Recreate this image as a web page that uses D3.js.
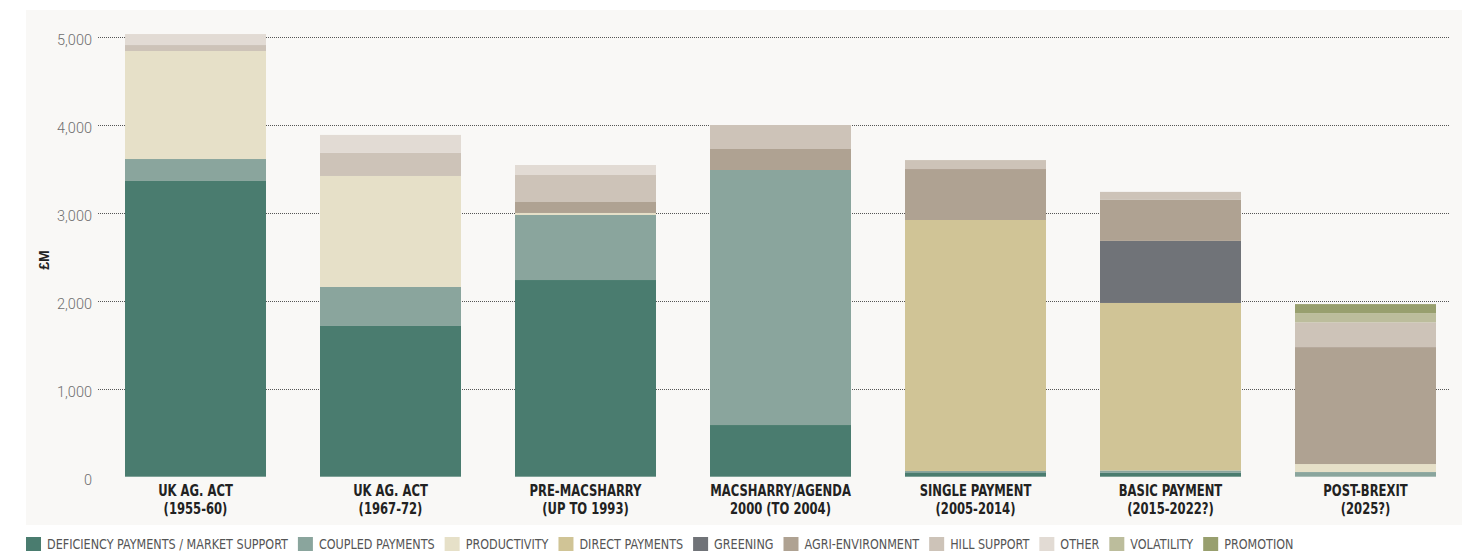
<!DOCTYPE html>
<html>
<head>
<meta charset="utf-8">
<script src="https://cdn.jsdelivr.net/npm/d3@7"></script>
<style>
  html, body { margin: 0; padding: 0; background: #ffffff; }
  svg { display: block; }
</style>
</head>
<body>
<svg id="chart" width="1475" height="551"></svg>
<script>
// Farm support spending by policy era, £M
const categories = [
  ["UK AG. ACT", "(1955-60)"],
  ["UK AG. ACT", "(1967-72)"],
  ["PRE-MACSHARRY", "(UP TO 1993)"],
  ["MACSHARRY/AGENDA", "2000 (TO 2004)"],
  ["SINGLE PAYMENT", "(2005-2014)"],
  ["BASIC PAYMENT", "(2015-2022?)"],
  ["POST-BREXIT", "(2025?)"]
];

const seriesNames = [
  "DEFICIENCY PAYMENTS / MARKET SUPPORT",
  "COUPLED PAYMENTS",
  "PRODUCTIVITY",
  "DIRECT PAYMENTS",
  "GREENING",
  "AGRI-ENVIRONMENT",
  "HILL SUPPORT",
  "OTHER",
  "VOLATILITY",
  "PROMOTION"
];

const seriesColors = [
  "#4a7c6f", "#8aa59d", "#e6e0c8", "#d0c496", "#707378",
  "#afa292", "#cdc3b8", "#e2dbd4", "#bcbd9c", "#989f6e"
];

// one array per series, one value per era
const deficiency    = [3365, 1715, 2238, 588, 50, 48, 0];
const coupled       = [250, 444, 740, 2902, 15, 23, 53];
const productivity  = [1229, 1263, 23, 0, 0, 0, 91];
const directPay     = [0, 0, 0, 0, 2856, 1906, 0];
const greening      = [0, 0, 0, 0, 0, 706, 0];
const agriEnv       = [0, 0, 125, 239, 580, 467, 1331];
const hillSupport   = [68, 262, 307, 273, 102, 91, 281];
const other         = [125, 205, 114, 0, 0, 0, 0];
const volatility    = [0, 0, 0, 0, 0, 0, 106];
const promotion     = [0, 0, 0, 0, 0, 0, 102];

const yTicks = [0, 1000, 2000, 3000, 4000, 5000];

const seriesValues = [deficiency, coupled, productivity, directPay, greening,
                      agriEnv, hillSupport, other, volatility, promotion];

const table = categories.map((c, i) => {
  const row = { key: i };
  seriesNames.forEach((s, j) => { row[s] = seriesValues[j][i]; });
  return row;
});

const svg = d3.select("#chart");

// panel background
svg.append("rect")
  .attr("x", 26).attr("y", 10)
  .attr("width", 1436).attr("height", 515)
  .attr("fill", "#f9f8f6");

const x = d3.scaleBand()
  .domain(d3.range(categories.length))
  .range([125, 1436])
  .paddingInner(54 / 195)
  .paddingOuter(0);

const y = d3.scaleLinear()
  .domain([0, 5000])
  .range([476.7, 37.3]);

// dotted gridlines
svg.append("g")
  .selectAll("line")
  .data(yTicks.filter(d => d > 0))
  .join("line")
  .attr("x1", 98).attr("x2", 1450)
  .attr("y1", d => Math.round(y(d)) + 0.5)
  .attr("y2", d => Math.round(y(d)) + 0.5)
  .attr("stroke", "#555")
  .attr("stroke-width", 1)
  .attr("stroke-dasharray", "1,1");

// y axis labels
const yAxis = d3.axisLeft(y)
  .tickValues(yTicks)
  .tickSize(0)
  .tickPadding(0)
  .tickFormat(d3.format(","));

const yg = svg.append("g")
  .attr("transform", "translate(92,3)")
  .call(yAxis);
yg.select(".domain").remove();
yg.selectAll("text")
  .attr("fill", "#6e6e6e")
  .style("font-family", "Roboto, 'Liberation Sans', sans-serif")
  .style("font-weight", 300)
  .style("font-size", "14.5px");

svg.append("text")
  .attr("transform", "translate(49,260) rotate(-90)")
  .attr("text-anchor", "middle")
  .attr("fill", "#222")
  .style("font-family", "'Liberation Sans', Arial, sans-serif")
  .style("font-weight", 700)
  .style("font-size", "14px")
  .text("£M");

// stacked bars
const stack = d3.stack().keys(seriesNames);
const layers = stack(table);

svg.append("g")
  .selectAll("g")
  .data(layers)
  .join("g")
  .attr("fill", (d, i) => seriesColors[i])
  .selectAll("rect")
  .data(d => d.filter(p => p[1] - p[0] > 0))
  .join("rect")
  .attr("x", d => x(d.data.key))
  .attr("width", x.bandwidth())
  .attr("y", d => y(d[1]))
  .attr("height", d => y(d[0]) - y(d[1]));

// category labels, horizontally squeezed condensed type
const catFont = "'DejaVu Sans Condensed', 'Liberation Sans', sans-serif";
const cats = svg.append("g")
  .selectAll("text")
  .data(categories)
  .join("text")
  .attr("transform", (d, i) => `translate(${x(i) + x.bandwidth() / 2},496) scale(0.86,1)`)
  .attr("text-anchor", "middle")
  .attr("fill", "#222")
  .style("font-family", catFont)
  .style("font-stretch", "condensed")
  .style("font-weight", 700)
  .style("font-size", "15px");
cats.append("tspan").attr("x", 0).text(d => d[0]);
cats.append("tspan").attr("x", 0).attr("dy", 18).text(d => d[1]);

// legend, laid out left to right
const legend = svg.append("g");
const squeeze = 0.89;
let lx = 26;
seriesNames.forEach((name, i) => {
  legend.append("rect")
    .attr("x", lx).attr("y", 537)
    .attr("width", 15).attr("height", 15)
    .attr("fill", seriesColors[i]);
  const t = legend.append("text")
    .attr("transform", `translate(${lx + 21},548.5) scale(${squeeze},1)`)
    .attr("fill", "#555")
    .style("font-family", catFont)
    .style("font-stretch", "condensed")
    .style("font-weight", 400)
    .style("font-size", "14px")
    .text(name);
  lx += 21 + t.node().getComputedTextLength() * squeeze + 10;
});
</script>
</body>
</html>
